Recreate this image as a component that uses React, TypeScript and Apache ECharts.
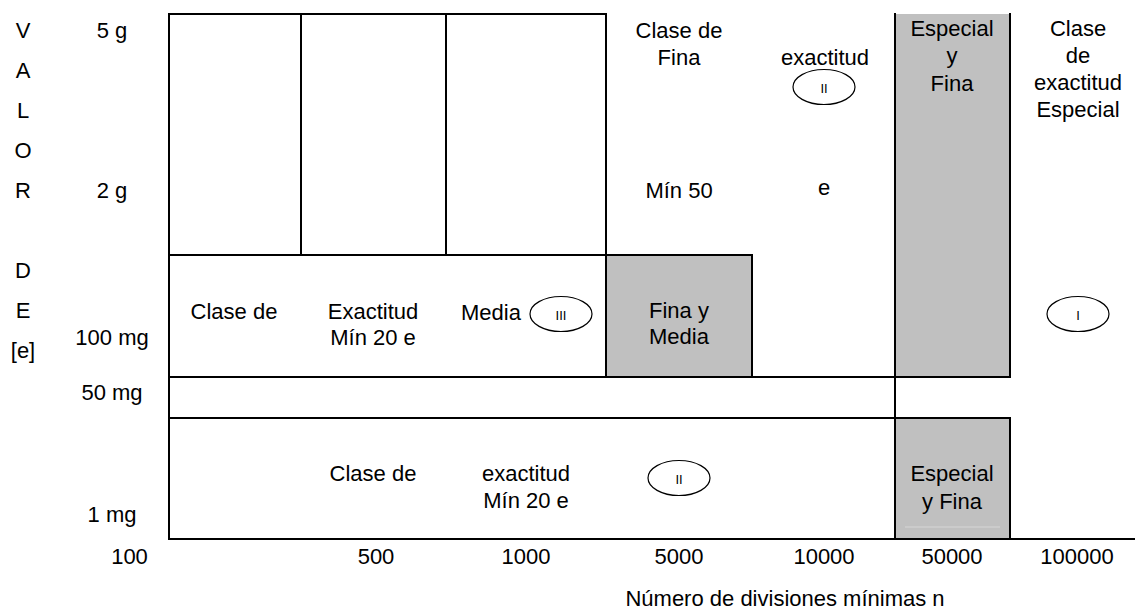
import React, { useEffect, useRef } from "react";
import * as echarts from "echarts";

// Diagram space: x 0..1135, y 0..611 (y downwards)
const spanX = [0, 1135];
const spanY = [0, 611];

// Shaded class regions [x0, y0, x1, y1]
const shadedRegions: number[][] = [
  [606, 255, 752, 377],
  [895, 14, 1010, 377],
  [895, 418, 1010, 539],
];

// Boundary segments [x1, y1, x2, y2]
const boundaries: number[][] = [
  [169, 14, 606, 14],
  [169, 14, 169, 539],
  [301, 14, 301, 255],
  [446, 14, 446, 255],
  [606, 14, 606, 377],
  [169, 255, 752, 255],
  [752, 255, 752, 377],
  [169, 377, 1010, 377],
  [169, 418, 1010, 418],
  [895, 14, 895, 539],
  [1010, 14, 1010, 377],
  [1010, 418, 1010, 539],
  [169, 539, 1135, 539],
];

const faintLines: number[][] = [[905, 527, 1000, 527]];

// Axis labels
const xTickLabels = ["100", "500", "1000", "5000", "10000", "50000", "100000"];
const xTickPos = [129.5, 376, 526, 679, 824, 952, 1077];
const yTickLabels = ["5 g", "2 g", "100 mg", "50 mg", "1 mg"];
const yTickPos = [30, 190, 337, 392, 514];
const yTitle = "V\nA\nL\nO\nR\n\nD\nE\n[e]";
const xTitle = "Número de divisiones mínimas n";

// Region texts [x, y, text, lineHeight]
const regionTexts: [number, number, string, number][] = [
  [679, 43.5, "Clase de\nFina", 27],
  [825, 57, "exactitud", 27],
  [679, 190, "Mín 50", 27],
  [824, 187, "e", 27],
  [952, 55.5, "Especial\ny\nFina", 27.5],
  [1078, 69, "Clase\nde\nexactitud\nEspecial", 27.3],
  [234, 311, "Clase de", 27],
  [373, 324, "Exactitud\nMín 20 e", 26],
  [491, 312, "Media", 27],
  [679, 323, "Fina y\nMedia", 26],
  [373, 473, "Clase de", 27],
  [526, 486.5, "exactitud\nMín 20 e", 27],
  [952, 487, "Especial\ny Fina", 28],
];

// Class markers [cx, cy, roman]
const classMarkers: [number, number, string][] = [
  [824, 87, "II"],
  [561, 314, "III"],
  [1078, 314, "I"],
  [679, 478, "II"],
];

const FONT = "Arial, 'Liberation Sans', sans-serif";

export default function App() {
  const ref = useRef<HTMLDivElement>(null);

  useEffect(() => {
    document.body.style.margin = "0";
    const chart = echarts.init(ref.current!, null, { renderer: "svg" });

    const textItems: any[] = [
      ...regionTexts.map((t) => ({ value: [t[0], t[1]], text: t[2], lh: t[3], size: 22 })),
      ...xTickLabels.map((s, i) => ({ value: [xTickPos[i], 556], text: s, lh: 26, size: 22 })),
      ...yTickLabels.map((s, i) => ({ value: [112, yTickPos[i]], text: s, lh: 26, size: 22 })),
      { value: [23, 190], text: yTitle, lh: 40, size: 22 },
      { value: [785, 598], text: xTitle, lh: 24, size: 22 },
    ];

    chart.setOption({
      animation: false,
      backgroundColor: "#ffffff",
      color: ["#000000"],
      grid: { left: 0, right: 0, top: 0, bottom: 0, containLabel: false },
      xAxis: { type: "value", min: spanX[0], max: spanX[1], show: false },
      yAxis: { type: "value", min: spanY[0], max: spanY[1], inverse: true, show: false },
      series: [
        {
          type: "custom",
          clip: false,
          data: shadedRegions,
          renderItem: (params: any, api: any) => {
            const p0 = api.coord([api.value(0), api.value(1)]);
            const p1 = api.coord([api.value(2), api.value(3)]);
            return {
              type: "rect",
              shape: { x: p0[0], y: p0[1], width: p1[0] - p0[0], height: p1[1] - p0[1] },
              style: { fill: "#c0c0c0", stroke: "none" },
            };
          },
        },
        {
          type: "custom",
          clip: false,
          data: faintLines,
          renderItem: (params: any, api: any) => {
            const p0 = api.coord([api.value(0), api.value(1)]);
            const p1 = api.coord([api.value(2), api.value(3)]);
            return {
              type: "line",
              shape: { x1: p0[0], y1: p0[1], x2: p1[0], y2: p1[1] },
              style: { stroke: "#d6d6d6", lineWidth: 1 },
            };
          },
        },
        {
          type: "custom",
          clip: false,
          data: boundaries,
          renderItem: (params: any, api: any) => {
            const p0 = api.coord([api.value(0), api.value(1)]);
            const p1 = api.coord([api.value(2), api.value(3)]);
            return {
              type: "line",
              shape: { x1: p0[0], y1: p0[1], x2: p1[0], y2: p1[1] },
              style: { stroke: "#000000", lineWidth: 2, lineCap: "square" },
            };
          },
        },
        {
          type: "custom",
          clip: false,
          itemStyle: { color: "#000000" },
          data: classMarkers.map((m) => ({ value: [m[0], m[1]] })),
          renderItem: (params: any, api: any) => {
            const c = api.coord([api.value(0), api.value(1)]);
            const roman = classMarkers[params.dataIndex][2];
            return {
              type: "group",
              children: [
                {
                  type: "ellipse",
                  shape: { cx: c[0], cy: c[1], rx: 31, ry: 17.5 },
                  style: { fill: "#ffffff", stroke: "#000000", lineWidth: 1.2 },
                },
                {
                  type: "text",
                  x: c[0],
                  y: c[1] + 1,
                  style: {
                    text: roman,
                    fill: "#000000",
                    fontSize: 13,
                    fontFamily: FONT,
                    align: "center",
                    verticalAlign: "middle",
                  },
                },
              ],
            };
          },
        },
        {
          type: "custom",
          clip: false,
          itemStyle: { color: "#000000" },
          data: textItems,
          renderItem: (params: any, api: any) => {
            const c = api.coord([api.value(0), api.value(1)]);
            const it = textItems[params.dataIndex];
            return {
              type: "text",
              x: c[0],
              y: c[1],
              style: {
                text: it.text,
                fill: "#000000",
                fontSize: it.size,
                fontFamily: FONT,
                lineHeight: it.lh,
                align: "center",
                verticalAlign: "middle",
              },
            };
          },
        },
      ],
    });

    return () => chart.dispose();
  }, []);

  return <div ref={ref} style={{ width: 1135, height: 611 }} />;
}
